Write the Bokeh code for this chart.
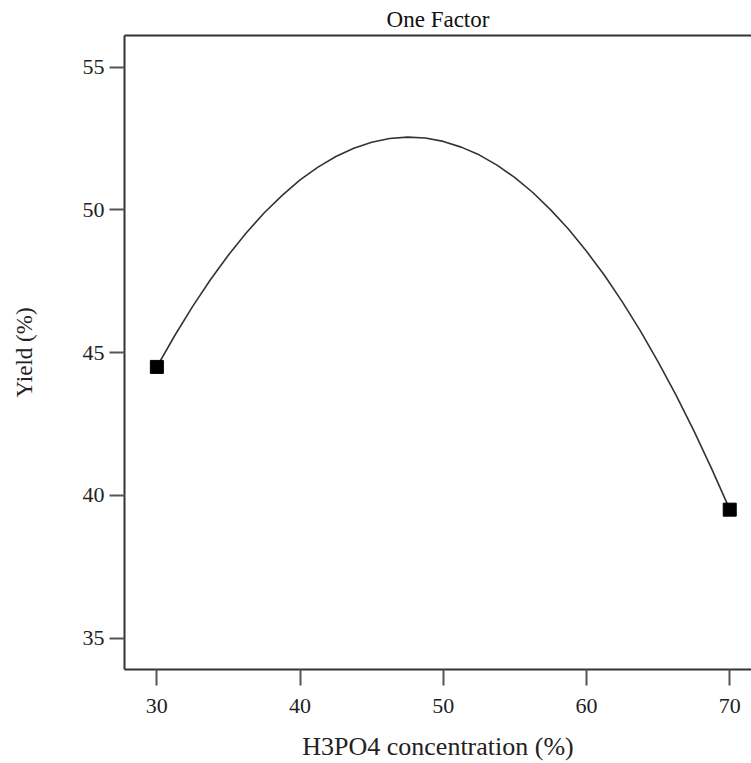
from bokeh.plotting import figure
from bokeh.models import LinearAxis, FixedTicker, Range1d
from bokeh.embed import file_html
from bokeh.resources import INLINE

# Data
design_x = [30, 70]
design_y = [44.5, 39.5]
curve_x = [30, 31.25, 32.5, 33.75, 35, 36.25, 37.5, 38.75, 40, 41.25, 42.5, 43.75, 45, 46.25,
           47.5, 48.75, 50, 51.25, 52.5, 53.75, 55, 56.25, 57.5, 58.75, 60, 61.25, 62.5,
           63.75, 65, 66.25, 67.5, 68.75, 70]
curve_y = [44.50, 45.60, 46.62, 47.56, 48.42, 49.20, 49.90, 50.51, 51.05, 51.50, 51.87, 52.16,
           52.37, 52.50, 52.55, 52.52, 52.40, 52.20, 51.93, 51.57, 51.13, 50.61, 50.00, 49.32,
           48.55, 47.71, 46.78, 45.77, 44.68, 43.51, 42.26, 40.92, 39.51]
x_ticks = [30, 40, 50, 60, 70]
y_ticks = [35, 40, 45, 50, 55]

FONT = "Liberation Serif"

p = figure(width=751, height=763, output_backend="svg", toolbar_location=None,
           x_range=Range1d(27.74, 71.52), y_range=Range1d(33.9, 56.11),
           min_border_left=124, min_border_right=0, min_border_top=0, min_border_bottom=0,
           title="One Factor")
p.outline_line_color = None
p.grid.grid_line_color = None
p.background_fill_color = "white"
p.border_fill_color = "white"

p.title.align = "center"
p.title.text_font = FONT
p.title.text_font_size = "23px"
p.title.text_font_style = "normal"
p.title.text_color = "#111111"
p.title.standoff = 8

for ax in (p.xaxis[0], p.yaxis[0]):
    ax.axis_line_color = "#333333"
    ax.axis_line_width = 2
    ax.major_tick_line_color = "#555555"
    ax.major_tick_line_width = 2
    ax.major_tick_in = 0
    ax.minor_tick_line_color = None
    ax.major_label_text_font = FONT
    ax.major_label_text_font_size = "22px"
    ax.major_label_text_color = "#222222"
    ax.axis_label_text_font = FONT
    ax.axis_label_text_font_style = "normal"
    ax.axis_label_text_color = "#222222"

p.xaxis[0].axis_label_text_font_size = "26px"
p.yaxis[0].axis_label_text_font_size = "23px"
p.xaxis[0].ticker = FixedTicker(ticks=x_ticks)
p.yaxis[0].ticker = FixedTicker(ticks=y_ticks)
p.xaxis[0].major_tick_out = 16
p.yaxis[0].major_tick_out = 15
p.xaxis[0].major_label_standoff = 13
p.yaxis[0].major_label_standoff = 5
p.xaxis[0].axis_label = "H3PO4 concentration (%)"
p.yaxis[0].axis_label = "Yield (%)"
p.xaxis[0].axis_label_standoff = 16
p.yaxis[0].axis_label_standoff = 43

top_axis = LinearAxis(axis_line_color="#333333", axis_line_width=2,
                      major_tick_line_color=None, minor_tick_line_color=None,
                      major_tick_in=0, major_tick_out=0,
                      major_label_text_font_size="0px", major_label_standoff=0)
top_axis.ticker = FixedTicker(ticks=[])
p.add_layout(top_axis, "above")

p.line(curve_x, curve_y, line_color="#333333", line_width=1.6)
p.scatter(design_x, design_y, marker="square", size=13, fill_color="black", line_color="black")

open("out.html", "w").write(file_html(p, INLINE))
